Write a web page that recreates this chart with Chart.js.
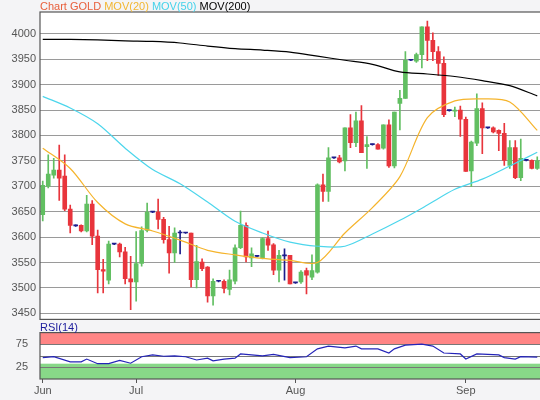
<!DOCTYPE html>
<html>
<head>
<meta charset="utf-8">
<script src="https://cdn.jsdelivr.net/npm/chart.js@4"></script>
<style>
  body { margin: 0; background: #f4f4f6; font-family: "Liberation Sans", Arial, sans-serif; }
  #wrap { position: relative; width: 540px; height: 400px; overflow: hidden; }
  #mainChart { position: absolute; left: 0; top: 0; }
  #rsiChart { position: absolute; left: 0; top: 322px; }
  .title { position: absolute; left: 40px; top: 0px; font-size: 11px; line-height: 12px; white-space: nowrap; }
  .rsiTitle { position: absolute; left: 40px; top: 321px; font-size: 11px; line-height: 12px; color: #1c1c9c; }
</style>
</head>
<body>
<div id="wrap">
  <canvas id="mainChart" width="540" height="330"></canvas>
  <canvas id="rsiChart" width="540" height="78"></canvas>
  <div class="title"><span style="color:#e8603c">Chart GOLD</span> <span style="color:#f2b632">MOV(20)</span> <span style="color:#44d2ea">MOV(50)</span> <span style="color:#000">MOV(200)</span></div>
  <div class="rsiTitle">RSI(14)</div>
</div>
<script>
// candles, one per trading day
const opens  = [3644,3700,3722,3732,3720,3655,3622,3623,3612,3665,3602,3536,3515,3586,3586,3571,3518,3512,3548,3613,
                3649,3649,3635,3595,3569,3608,3608,3608,3516,3551,3541,3484,3513,3513,3497,3513,3579,3623,3559,3562,
                3559,3597,3585,3535,3563,3564,3510,3512,3534,3521,3531,3703,3690,3756,3756,3750,3815,3786,3829,3778,
                3782,3782,3775,3821,3740,3863,3873,3948,3946,3959,4014,3987,3965,3942,3849,3848,3850,3832,3730,3785,
                3853,3815,3815,3810,3804,3741,3776,3717,3751,3751,3735];
const highs  = [3710,3762,3755,3781,3762,3663,3624,3624,3682,3672,3614,3556,3592,3587,3588,3580,3562,3611,3620,3667,
                3650,3675,3639,3621,3618,3613,3609,3608,3584,3557,3542,3518,3514,3516,3535,3585,3651,3628,3579,3563,
                3599,3612,3587,3574,3577,3564,3511,3534,3539,3565,3705,3724,3776,3757,3761,3815,3841,3846,3859,3798,
                3783,3784,3821,3831,3846,3889,3965,3949,3962,4014,4025,4002,3975,3955,3850,3856,3858,3836,3789,3882,
                3864,3816,3817,3811,3824,3790,3790,3793,3752,3752,3758];
const lows   = [3632,3697,3716,3672,3652,3608,3621,3610,3610,3585,3490,3490,3508,3585,3561,3508,3457,3474,3543,3610,
                3648,3616,3588,3529,3550,3567,3607,3502,3500,3534,3472,3466,3512,3490,3486,3508,3577,3551,3542,3561,
                3557,3574,3526,3512,3515,3508,3509,3509,3488,3516,3529,3670,3670,3755,3746,3730,3776,3778,3766,3735,
                3781,3773,3773,3737,3736,3811,3873,3947,3944,3933,3947,3947,3918,3837,3848,3837,3798,3729,3699,3780,
                3764,3814,3805,3770,3741,3735,3715,3711,3750,3734,3733];
const closes = [3702,3724,3732,3716,3655,3623,3623,3612,3665,3602,3536,3533,3586,3586,3571,3518,3512,3548,3613,3649,
                3649,3635,3595,3569,3608,3608,3608,3516,3552,3538,3484,3513,3513,3499,3516,3579,3623,3561,3567,3562,
                3597,3584,3535,3564,3563,3508,3510,3531,3525,3534,3703,3690,3756,3756,3748,3815,3786,3829,3766,3782,
                3782,3773,3821,3740,3846,3873,3948,3948,3959,4014,3987,3965,3942,3841,3849,3850,3832,3729,3787,3853,
                3815,3815,3807,3804,3751,3776,3717,3755,3751,3735,3750];

// moving averages every 5 sessions
const maIdx  = [0,5,10,15,20,25,30,35,40,45,50,55,60,65,70,75,80,85,90];
const mov20  = [3775,3735,3668,3626,3612,3594,3574,3565,3558,3554,3550,3608,3658,3719,3835,3868,3872,3866,3810];
const mov50  = [3877,3854,3823,3775,3733,3705,3669,3631,3608,3590,3582,3582,3606,3633,3663,3694,3714,3740,3767];
const mov200 = [3989,3989,3988,3986,3985,3982,3976,3971,3968,3964,3956,3948,3940,3925,3921,3916,3908,3898,3878];

// RSI(14) readings
const rsiIdx = [0,2,5,7,8,10,12,14,16,18,20,22,24,26,28,30,31,33,35,36,38,40,42,45,48,50,52,55,57,58,61,63,64,66,69,71,73,76,77,79,83,84,86,87,90];
const rsiVal = [46,48,37,37,43,33,33,40,34,48,52,49,50,48,41,45,39,43,45,54,52,50,53,46,48,65,71,67,71,65,65,56,65,73,75,71,56,54,43,54,52,46,43,48,47];

const monthTicks = {0: 'Jun', 17: 'Jul', 46: 'Aug', 77: 'Sep'};
const yTicks = [3450,3500,3550,3600,3650,3700,3750,3800,3850,3900,3950,4000];

const labels = opens.map((o, i) => i);
const GREEN = '#62bf62', RED = '#e8353c', DOJI = '#1c1c8c';
const candleColor = opens.map((o, i) => Math.abs(closes[i] - o) < 1.5 ? DOJI : (closes[i] > o ? GREEN : RED));

function sparse(idx, vals) {
  const arr = labels.map(() => null);
  idx.forEach((k, j) => arr[k] = vals[j]);
  return arr;
}

const frame = {
  id: 'frame',
  afterDraw(chart) {
    const a = chart.chartArea, ctx = chart.ctx;
    ctx.save();
    ctx.strokeStyle = '#555';
    ctx.lineWidth = 1.2;
    ctx.strokeRect(a.left, a.top, a.right - a.left + 2, a.bottom - a.top);
    ctx.restore();
  }
};
const whiteBg = {
  id: 'whiteBg',
  beforeDraw(chart) {
    const a = chart.chartArea, ctx = chart.ctx;
    ctx.save();
    ctx.fillStyle = '#fff';
    ctx.fillRect(a.left, a.top, a.right - a.left, a.bottom - a.top);
    ctx.restore();
  }
};

const tickFont = {family: '"Liberation Sans", Arial', size: 11};

new Chart(document.getElementById('mainChart'), {
  type: 'bar',
  data: {
    labels: labels,
    datasets: [
      {type: 'line', data: sparse(maIdx, mov200), borderColor: '#000', borderWidth: 1.2, pointRadius: 0, spanGaps: true, tension: 0.3},
      {type: 'line', data: sparse(maIdx, mov50), borderColor: '#4dd6ec', borderWidth: 1.2, pointRadius: 0, spanGaps: true, tension: 0.3},
      {type: 'line', data: sparse(maIdx, mov20), borderColor: '#f5b42c', borderWidth: 1.2, pointRadius: 0, spanGaps: true, tension: 0.3},
      {data: labels.map(i => [lows[i], highs[i]]), backgroundColor: candleColor, barThickness: 1, grouped: false},
      {data: labels.map(i => [opens[i], closes[i]]), backgroundColor: candleColor, barThickness: 4, minBarLength: 1, grouped: false},
    ]
  },
  options: {
    responsive: false,
    animation: false,
    layout: {padding: {top: 12, bottom: 3, right: 0}},
    plugins: {legend: {display: false}, tooltip: {enabled: false}},
    scales: {
      x: {display: false, offset: true},
      y: {
        min: 3438, max: 4043,
        afterBuildTicks: s => { s.ticks = yTicks.map(v => ({value: v})); },
        afterFit: s => { s.width = 40; },
        ticks: {color: '#555', font: tickFont, padding: 4, callback: v => String(v)},
        grid: {color: '#9a9a9a', drawTicks: false},
        border: {display: false}
      }
    }
  },
  plugins: [whiteBg, frame]
});

const rsiBands = {
  id: 'rsiBands',
  beforeDatasetsDraw(chart) {
    const a = chart.chartArea, y = chart.scales.y, ctx = chart.ctx;
    ctx.save();
    ctx.fillStyle = '#ff8585';
    ctx.fillRect(a.left, y.getPixelForValue(100), a.right - a.left, y.getPixelForValue(75) - y.getPixelForValue(100));
    ctx.fillStyle = '#88d888';
    ctx.fillRect(a.left, y.getPixelForValue(33), a.right - a.left, y.getPixelForValue(0) - y.getPixelForValue(33));
    ctx.strokeStyle = '#777';
    ctx.lineWidth = 1;
    [75, 50, 25].forEach(v => {
      const p = Math.round(y.getPixelForValue(v)) + 0.5;
      ctx.beginPath(); ctx.moveTo(a.left, p); ctx.lineTo(a.right, p); ctx.stroke();
    });
    ctx.restore();
  }
};

new Chart(document.getElementById('rsiChart'), {
  type: 'line',
  data: {
    labels: labels,
    datasets: [
      {data: sparse(rsiIdx, rsiVal), borderColor: '#2424b8', borderWidth: 1.2, pointRadius: 0, spanGaps: true}
    ]
  },
  options: {
    responsive: false,
    animation: false,
    layout: {padding: {top: 6, right: 0}},
    plugins: {legend: {display: false}, tooltip: {enabled: false}},
    scales: {
      x: {
        offset: true,
        afterFit: s => { s.height = 21; },
        ticks: {autoSkip: false, maxRotation: 0, color: '#555', font: tickFont, padding: 1,
                callback: (v, i) => monthTicks[i] || ''},
        grid: {drawOnChartArea: false, tickLength: 4,
               color: c => monthTicks[c.index] !== undefined ? '#555' : 'transparent'},
        border: {display: false}
      },
      y: {
        min: 0, max: 100,
        afterBuildTicks: s => { s.ticks = [{value: 25}, {value: 75}]; },
        afterFit: s => { s.width = 40; },
        ticks: {color: '#555', font: tickFont, padding: 4},
        grid: {display: false},
        border: {display: false}
      }
    }
  },
  plugins: [whiteBg, rsiBands, frame]
});
</script>
</body>
</html>
